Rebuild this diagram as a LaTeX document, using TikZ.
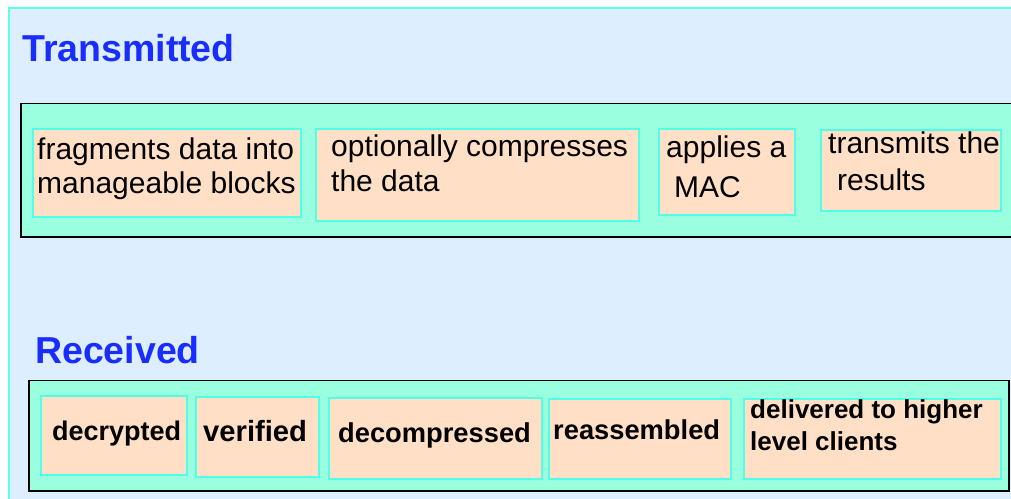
\documentclass[tikz,border=0pt]{standalone}
\usepackage{fontspec}
\setmainfont{Liberation Sans}
\definecolor{pageblue}{RGB}{220,238,255}
\definecolor{rimcyan}{RGB}{90,255,228}
\definecolor{panelaqua}{RGB}{153,255,222}
\definecolor{boxpeach}{RGB}{255,224,199}
\definecolor{boxrim}{RGB}{80,255,230}
\definecolor{headblue}{RGB}{26,45,255}
\tikzset{
  panel/.style={fill=panelaqua, draw=black, line width=1.3pt},
  stepbox/.style={rectangle, fill=boxpeach, draw=boxrim, line width=1.5pt,
    anchor=north west, inner sep=0pt},
  heading/.style={anchor=base west, inner sep=0pt, text=headblue,
    font=\fontsize{37.5}{40}\selectfont\bfseries},
  plain/.style={anchor=base west, inner sep=0pt,
    font=\fontsize{30}{34}\selectfont},
  heavy/.style={anchor=base west, inner sep=0pt,
    font=\fontsize{27.3}{32}\selectfont\bfseries},
}
\begin{document}
\begin{tikzpicture}[x=1pt, y=-1pt]
\useasboundingbox (0,0) rectangle (1011,498);
\clip (0,0) rectangle (1011,498);

% page background with its cyan rim
\fill[white] (0,0) rectangle (1011,498);
\filldraw[fill=pageblue, draw=rimcyan, line width=2pt] (8.5,7.5) rectangle (1020,510);

% ---- transmitted side ----
\node[heading] (thead) at (22,61) {Transmitted};
\path[panel] (21,103.5) rectangle (1020,237);

\node[stepbox, minimum width=268pt, minimum height=88pt] (t1) at (32,128) {};
\node[stepbox, minimum width=323pt, minimum height=92pt] (t2) at (315,128) {};
\node[stepbox, minimum width=136pt, minimum height=86pt] (t3) at (658,128) {};
\node[stepbox, minimum width=180pt, minimum height=81pt] (t4) at (820,129) {};

\node[plain] (t1a) at (37,159) {fragments data into};
\node[plain] (t1b) at (37,193) {manageable blocks};
\node[plain] (t2a) at (331,156.5) {optionally compresses};
\node[plain] (t2b) at (331,191) {the data};
\node[plain] (t3a) at (666,157) {applies a};
\node[plain] (t3b) at (674,197) {MAC};
\node[plain] (t4a) at (828,153) {transmits the};
\node[plain] (t4b) at (837,190) {results};

% ---- received side ----
\node[heading] (rhead) at (35,363) {Received};
\path[panel] (29,380.5) rectangle (1009,491);

\node[stepbox, minimum width=146pt, minimum height=79pt] (r1) at (40,395) {};
\node[stepbox, minimum width=123pt, minimum height=80pt] (r2) at (195,396) {};
\node[stepbox, minimum width=213pt, minimum height=81pt] (r3) at (328,397) {};
\node[stepbox, minimum width=182pt, minimum height=80pt] (r4) at (548,398) {};
\node[stepbox, minimum width=257pt, minimum height=80pt] (r5) at (743,398) {};

\node[heavy, font=\fontsize{27}{32}\selectfont\bfseries] (r1a) at (52,440) {decrypted};
\node[heavy, font=\fontsize{29.2}{32}\selectfont\bfseries] (r2a) at (203,441) {verified};
\node[heavy] (r3a) at (338,442) {decompressed};
\node[heavy] (r4a) at (553,439) {reassembled};
\node[heavy, font=\fontsize{26}{31}\selectfont\bfseries] (r5a) at (750,418) {delivered to higher};
\node[heavy, font=\fontsize{26}{31}\selectfont\bfseries] (r5b) at (750,450) {level clients};
\end{tikzpicture}
\end{document}
